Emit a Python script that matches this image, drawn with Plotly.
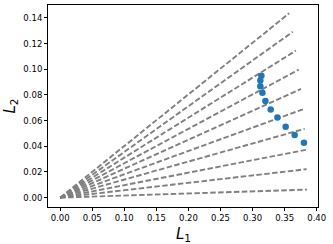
import numpy as np
import plotly.graph_objects as go

# Radial reference lines (angles in degrees, common length)
line_angles_deg = [0.93, 3.3, 5.55, 8.0, 10.3, 12.7, 15.0, 17.3, 19.6, 21.9]
line_length = 0.385

# Scatter points
pts_L1 = [0.3137, 0.3121, 0.3121, 0.3153, 0.3200, 0.3282, 0.3387, 0.3516, 0.3656, 0.3801]
pts_L2 = [0.0949, 0.0913, 0.0867, 0.0816, 0.0752, 0.0687, 0.0623, 0.0552, 0.0487, 0.0427]

x_ticks = [0.00, 0.05, 0.10, 0.15, 0.20, 0.25, 0.30, 0.35, 0.40]
y_ticks = [0.00, 0.02, 0.04, 0.06, 0.08, 0.10, 0.12, 0.14]

fig = go.Figure()
for a in line_angles_deg:
    t = np.deg2rad(a)
    fig.add_trace(go.Scatter(
        x=[0, line_length * np.cos(t)], y=[0, line_length * np.sin(t)],
        mode="lines", line=dict(color="#808080", width=1.9, dash="5.5px,2.4px"),
        showlegend=False, hoverinfo="skip"))

fig.add_trace(go.Scatter(x=pts_L1, y=pts_L2, mode="markers",
                         marker=dict(color="#1f77b4", size=6.5, line=dict(width=0)),
                         showlegend=False))

font = dict(family="DejaVu Sans", size=8.5, color="black")
axis_common = dict(showgrid=False, zeroline=False, showline=True, linecolor="black",
                   linewidth=1, mirror=True, ticks="outside", ticklen=3, tickwidth=1,
                   tickcolor="black", tickfont=font, tickformat=".2f", automargin=False)

title_font = dict(family="DejaVu Sans", size=15, color="black")

fig.update_layout(
    width=333, height=244,
    margin=dict(l=48, r=15, t=5, b=37),
    plot_bgcolor="white", paper_bgcolor="white",
    xaxis=dict(range=[-0.019, 0.402], tickvals=x_ticks, **axis_common),
    yaxis=dict(range=[-0.0073, 0.150], tickvals=y_ticks, **axis_common),
    annotations=[
        dict(text="<i>L</i><sub>1</sub>", xref="paper", yref="paper", x=0.5, y=0,
             xanchor="center", yanchor="top", yshift=-16, showarrow=False, font=title_font),
        dict(text="<i>L</i><sub>2</sub>", xref="paper", yref="paper", x=0, y=0.5,
             xanchor="right", yanchor="middle", xshift=-27, showarrow=False,
             textangle=-90, font=title_font),
    ],
)

fig.write_html("out.html", config={"displayModeBar": False},
               post_script="document.body.style.margin='0';document.body.style.overflow='hidden';")
